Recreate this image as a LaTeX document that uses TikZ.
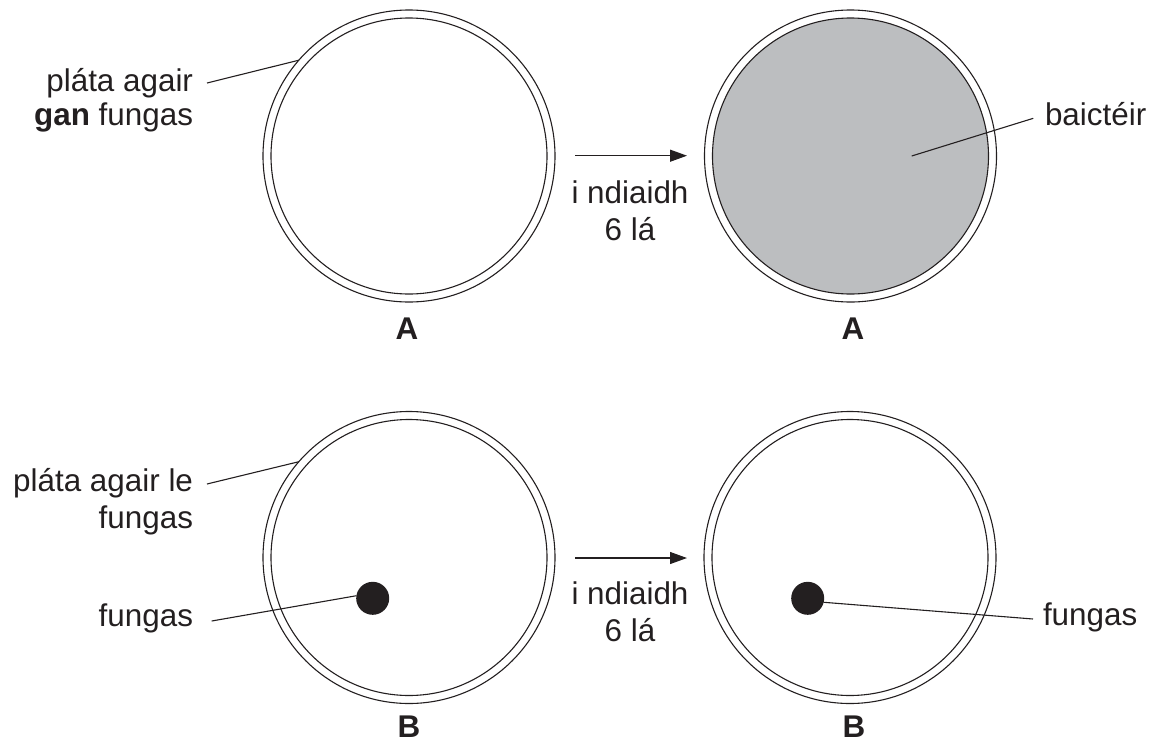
\documentclass[tikz,border=0pt]{standalone}
\usepackage{fontspec}
\setmainfont{Liberation Sans}
\usetikzlibrary{arrows.meta}
\definecolor{bact}{RGB}{188,190,192}
\definecolor{ink}{RGB}{35,31,32}
\begin{document}
\begin{tikzpicture}[x=0.5pt,y=-0.5pt,
  every node/.style={text=ink,inner sep=0pt,outer sep=0pt},
  txt/.style={font=\fontsize{15.7}{18}\selectfont},
  plate/.style={circle,draw=ink,line width=0.55pt,minimum size=146pt,inner sep=0pt,outer sep=0pt},
  platein/.style={circle,draw=ink,line width=0.55pt,minimum size=138pt,inner sep=0pt,outer sep=0pt},
  fdot/.style={circle,fill=ink,minimum size=16.5pt,inner sep=0pt,outer sep=0pt},
  leader/.style={draw=ink,line width=0.55pt},
  timearrow/.style={draw=ink,line width=0.6pt,-{Triangle[length=8.5pt,width=6pt]}},
  platename/.style={anchor=base,font=\fontsize{15.7}{18}\selectfont\bfseries}]
\useasboundingbox (0,0) rectangle (1153,745);
% plates
\node[plate] (pA1) at (409,156) {};
\node[platein] (pA1i) at (409,156) {};
\node[plate] (pA2) at (850.5,156) {};
\node[platein,fill=bact] (pA2i) at (850.5,156) {};
\node[plate] (pB1) at (409,557.5) {};
\node[platein] (pB1i) at (409,557.5) {};
\node[plate] (pB2) at (850,557.5) {};
\node[platein] (pB2i) at (850,557.5) {};
\node[fdot] (f1) at (372.7,598.3) {};
\node[fdot] (f2) at (807.7,598.3) {};
% labels (base anchor = baseline of the last line)
\node[txt,anchor=base east,align=right,font=\fontsize{15.7}{16.7}\selectfont] (lA) at (193,125) {pláta agair\\\textbf{gan} fungas};
\node[txt,anchor=base east,align=right,font=\fontsize{15.7}{18.3}\selectfont] (lB) at (193,528.3) {pláta agair le\\fungas};
\node[txt,anchor=base east] (lF1) at (193,626.7) {fungas};
\node[txt,anchor=base west] (lBac) at (1045,125) {baictéir};
\node[txt,anchor=base west] (lF2) at (1043,625) {fungas};
\node[txt,anchor=base,align=center,font=\fontsize{15.7}{18.5}\selectfont] (t1) at (630,240) {i ndiaidh\\6 lá};
\node[txt,anchor=base,align=center,font=\fontsize{15.7}{18.5}\selectfont] (t2) at (630,641.7) {i ndiaidh\\6 lá};
\node[platename] (nA1) at (407,339) {A};
\node[platename] (nA2) at (853,339) {A};
\node[platename] (nB1) at (409,737) {B};
\node[platename] (nB2) at (854,737) {B};
% arrows
\coordinate (a1s) at (575,155.7);
\coordinate (a1e) at (687,155.7);
\coordinate (a2s) at (575,558);
\coordinate (a2e) at (687,558);
\draw[timearrow] (a1s) -- (a1e);
\draw[timearrow] (a2s) -- (a2e);
% leaders
\coordinate (sA) at (207,83);
\draw[leader] (sA) -- (pA1.139.4);
\coordinate (sB) at (207,484);
\draw[leader] (sB) -- (pB1.139.2);
\coordinate (sF1) at (211.7,621);
\draw[leader] (sF1) -- (f1.171);
\coordinate (sBac) at (1033.3,118.3);
\coordinate (eBac) at (911.7,156);
\draw[leader] (sBac) -- (eBac);
\coordinate (sF2) at (1033,619);
\draw[leader] (sF2) -- (f2.-14);
\end{tikzpicture}
\end{document}
